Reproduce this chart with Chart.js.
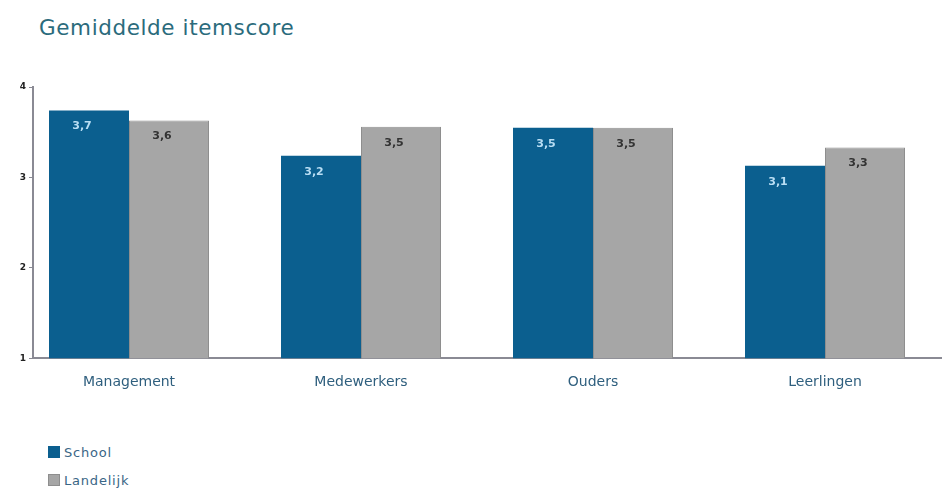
<!DOCTYPE html>
<html>
<head>
<meta charset="utf-8">
<script src="https://cdn.jsdelivr.net/npm/chart.js@4.4.0/dist/chart.umd.min.js"></script>
<style>
    body { margin: 0; background: #fff; font-family: "DejaVu Sans", sans-serif; }
    #wrap { position: relative; width: 944px; height: 494px; }
    #title { position: absolute; left: 39px; top: 15px; font-size: 21.5px; color: #2b6b7c; letter-spacing: 0.6px; }
    #chart-box { position: absolute; left: 0; top: 0; width: 944px; height: 399px; }
    #legend { position: absolute; left: 48px; top: 438px; font-size: 13px; }
    .item { display: flex; align-items: center; height: 28px; color: #3a6686; letter-spacing: 0.8px; }
    .box { width: 12px; height: 12px; margin-right: 4px; box-sizing: border-box; }
</style>
</head>
<body>
<div id="wrap">
    <div id="title">Gemiddelde itemscore</div>
    <div id="chart-box"><canvas id="chart"></canvas></div>
    <div id="legend"></div>
</div>
<script>
const categories = ["Management", "Medewerkers", "Ouders", "Leerlingen"];
const seriesNames = ["School", "Landelijk"];
const schoolValues = [3.74, 3.24, 3.55, 3.13];
const landelijkValues = [3.63, 3.56, 3.55, 3.33];
const schoolLabels = ["3,7", "3,2", "3,5", "3,1"];
const landelijkLabels = ["3,6", "3,5", "3,5", "3,3"];
const yTicks = [1, 2, 3, 4];

const colors = ["#0b5f8f", "#a6a6a6"];
const borders = ["#0b5f8f", "#8e8e8e"];
const labelColors = ["#b9def4", "#333333"];
const valueLabels = [schoolLabels, landelijkLabels];

const barLabels = {
    id: "barLabels",
    afterDatasetsDraw(chart) {
        const ctx = chart.ctx;
        ctx.save();
        ctx.font = "bold 11px 'DejaVu Sans'";
        ctx.textAlign = "center";
        ctx.textBaseline = "middle";
        chart.data.datasets.forEach((ds, i) => {
            chart.getDatasetMeta(i).data.forEach((bar, j) => {
                ctx.fillStyle = labelColors[i];
                ctx.fillText(valueLabels[i][j], bar.x - 7, bar.y + 16);
            });
        });
        ctx.restore();
    }
};

new Chart(document.getElementById("chart"), {
    type: "bar",
    data: {
        labels: categories,
        datasets: [
            { label: seriesNames[0], data: schoolValues, backgroundColor: colors[0], borderColor: borders[0], borderWidth: 0 },
            { label: seriesNames[1], data: landelijkValues, backgroundColor: colors[1], borderColor: borders[1], borderWidth: 1 }
        ]
    },
    options: {
        responsive: true,
        maintainAspectRatio: false,
        animation: false,
        categoryPercentage: 160 / 232,
        barPercentage: 1,
        layout: { padding: { top: 87, left: 8, right: 3, bottom: 0 } },
        plugins: { legend: { display: false }, tooltip: { enabled: false } },
        scales: {
            x: {
                afterBuildTicks: (s) => { s._startValue = -0.4138; s._valueRange = 3.9138; },
                grid: { display: false },
                border: { color: "#8a8a94", width: 2 },
                ticks: { color: "#2f5f7e", font: { family: "DejaVu Sans", size: 14 }, padding: 8 }
            },
            y: {
                min: 1,
                max: 4,
                afterBuildTicks: (s) => { s.ticks = yTicks.map(v => ({ value: v })); },
                afterFit: (s) => { s.width = 25; },
                grid: { drawOnChartArea: false, tickLength: 4, color: "#8a8a94" },
                border: { color: "#8a8a94", width: 2 },
                ticks: { color: "#222", font: { family: "DejaVu Sans", size: 9, weight: "bold" }, padding: 3 }
            }
        }
    },
    plugins: [barLabels]
});

const legend = document.getElementById("legend");
seriesNames.forEach((name, i) => {
    legend.innerHTML += `<div class="item"><span class="box" style="background:${colors[i]};border:1px solid ${borders[i]}"></span>${name}</div>`;
});
</script>
</body>
</html>
